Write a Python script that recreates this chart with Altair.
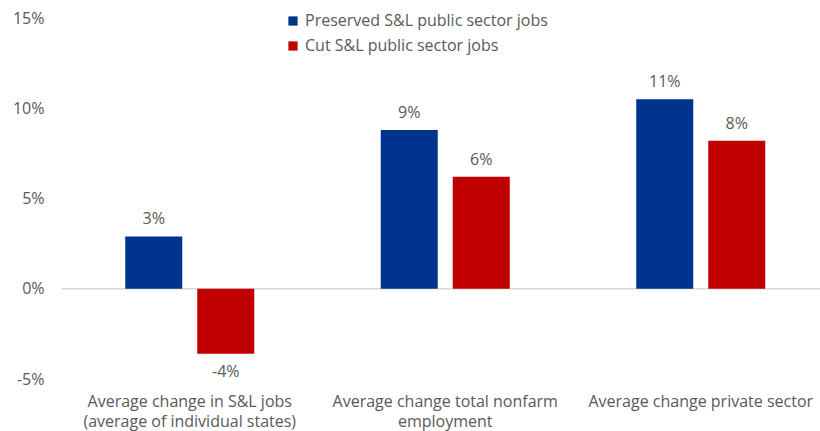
import altair as alt
import pandas as pd

categories = [
    "Average change in S&L jobs|(average of individual states)",
    "Average change total nonfarm|employment",
    "Average change private sector",
]
series = ["Preserved S&L public sector jobs", "Cut S&L public sector jobs"]
preserved = [2.9, 8.8, 10.5]
cut = [-3.6, 6.2, 8.2]
labels_preserved = ["3%", "9%", "11%"]
labels_cut = ["-4%", "6%", "8%"]

rows = []
for i, c in enumerate(categories):
    rows.append({"cat": c, "series": series[0], "value": preserved[i], "label": labels_preserved[i]})
    rows.append({"cat": c, "series": series[1], "value": cut[i], "label": labels_cut[i]})
df = pd.DataFrame(rows)

FONT = "Open Sans"
GREY = "#595959"
FS = 16

x = alt.X("cat:N", sort=categories, title=None,
          scale=alt.Scale(paddingInner=0, paddingOuter=0, range=[0, 766.5]),
          axis=alt.Axis(domain=False, ticks=False, labelAngle=0,
                        labelExpr="split(datum.label, '|')",
                        labelPadding=14, labelLineHeight=20,
                        labelFont=FONT, labelFontSize=FS, labelColor=GREY,
                        labelLimit=300))
xoff = alt.XOffset("series:N", sort=series,
                   scale=alt.Scale(paddingInner=0.208, paddingOuter=0.878))
y = alt.Y("value:Q", title=None,
          scale=alt.Scale(domain=[-5, 15], nice=False),
          axis=alt.Axis(values=[-5, 0, 5, 10, 15], labelExpr="datum.value + '%'",
                        grid=False, domain=False, ticks=False, labelPadding=18,
                        labelFont=FONT, labelFontSize=FS, labelColor=GREY))
color = alt.Color("series:N", sort=series,
                  scale=alt.Scale(domain=series, range=["#00338D", "#C00000"]),
                  legend=alt.Legend(title=None, orient="none", legendX=223, legendY=-5,
                                    symbolType="square", symbolSize=85,
                                    symbolStrokeWidth=0, labelFont=FONT,
                                    labelFontSize=FS, labelColor=GREY,
                                    rowPadding=9, labelOffset=4, labelLimit=400))

base = alt.Chart(df)
bars = base.mark_bar().encode(x=x, xOffset=xoff, y=y, color=color)

zero = alt.Chart(pd.DataFrame({"v": [0]})).mark_rule(color="#D9D9D9", strokeWidth=1.5).encode(y="v:Q")

pos_text = base.transform_filter("datum.value >= 0").mark_text(
    baseline="bottom", dy=-9, font=FONT, fontSize=FS, color=GREY
).encode(x=x, xOffset=xoff, y=y, text="label:N")
neg_text = base.transform_filter("datum.value < 0").mark_text(
    baseline="top", dy=10, font=FONT, fontSize=FS, color=GREY
).encode(x=x, xOffset=xoff, y=y, text="label:N")

chart = alt.layer(zero, bars, pos_text, neg_text).properties(
    width=758, height=361,
    padding={"left": 62, "top": 18, "right": 0, "bottom": 52},
    autosize=alt.AutoSizeParams(type="none"),
).configure_view(stroke=None)

chart.save("out.html", embed_options={"renderer": "svg", "actions": False})
